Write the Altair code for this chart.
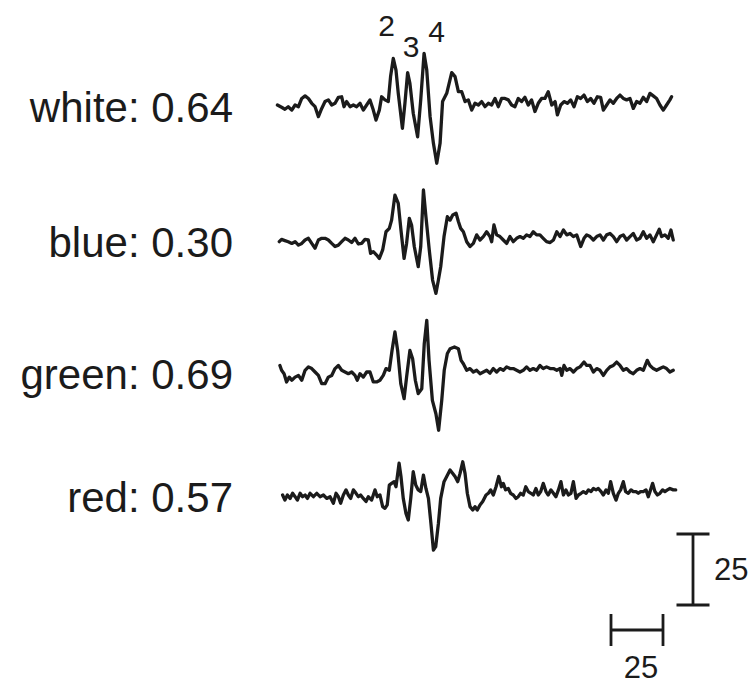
import altair as alt
import pandas as pd

# ---- recorded traces: time (ms) and amplitude (µV) ----
white_t = [0.2, 2.2, 3.8, 5.4, 7.1, 8.7, 10.3, 11.9, 13.5, 15.1, 16.7, 18.3, 19.9, 21.5, 23.1, 24.7,
           26.3, 27.9, 29.5, 31.1, 32.2, 33.5, 35.1, 36.7, 38.3, 39.9, 41.5, 43.1, 44.7, 46.3, 47.6,
           49.2, 50.3, 51.9, 53.5, 54.6, 55.9, 57.2, 58.3, 60.3, 61.5, 62.8, 63.9, 65.5, 67.6, 69.1,
           70.7, 72.0, 73.6, 75.2, 76.8, 78.4, 79.6, 81.6, 84.0, 85.6, 87.2, 88.8, 90.4, 92.0, 93.6,
           95.2, 96.8, 98.4, 100.0, 101.6, 103.2, 104.8, 106.4, 108.0, 109.6, 111.2, 112.8, 114.4,
           116.0, 117.6, 119.2, 120.8, 122.4, 124.0, 125.6, 127.2, 128.8, 130.4, 132.1, 133.7, 134.8,
           136.4, 138.0, 139.6, 141.2, 142.8, 144.4, 146.0, 147.6, 149.2, 150.8, 152.4, 154.0, 155.6,
           156.9, 158.5, 160.1, 161.7, 163.3, 164.9, 166.5, 168.1, 169.7, 171.3, 172.9, 174.5, 176.1,
           177.7, 179.3, 180.9, 182.5, 184.1, 185.7, 187.3, 188.9, 189.7]
white_v = [0, -0.8, -1.5, -0.6, -1.8, 0, -0.6, 2.3, 3.2, 2.3, 0.6, -0.6, -4.1, -1.2, 1.2, 1.8,
           0, 0.6, 2.7, 2.9, -0.6, 1.2, -0.6, 0, -0.6, 0.6, -1.8, 0, 1.8, -1.8, -5.3,
           -1.8, 2.9, 1.8, 1.2, 10.0, 16.4, 12.3, 4.1, -8.2, 0.6, 11.4, 7.6, -2.9, -11.2, 1.8,
           18.2, 12.3, -4.1, -13.5, -20.5, -13.5, 1.2, 4.1, 11.4, 10.0, 4.7, 4.7, 1.2, 1.8, -1.8,
           0.6, 0, 1.2, -0.6, 0.6, 0, 2.3, -0.6, 2.3, 2.3, 1.8, 0, -0.6,
           2.3, 1.2, 2.7, 0, 1.8, -2.3, 0.6, 2.3, 2.3, 4.7, 0, 1.2, -3.5,
           0, 1.2, 0.6, 1.8, -0.6, 2.9, 2.3, 3.5, 1.2, 2.3, 0.6, 2.9, 2.7,
           -1.8, 0, 1.8, 0.6, 2.3, 3.5, 2.3, 1.8, 2.3, -1.2, 1.2, 0.6, 2.7,
           1.2, 4.1, 3.2, 2.3, 0, -1.8, 0, 1.8, 2.9]

blue_t = [1.1, 2.2, 3.8, 5.4, 7.1, 8.7, 10.3, 11.9, 13.5, 15.1, 16.7, 18.3, 19.9, 21.5, 23.1, 24.7,
          26.3, 27.9, 29.5, 31.1, 32.7, 34.3, 35.9, 37.5, 39.1, 40.7, 42.3, 43.9, 45.0, 46.3, 47.9,
          49.2, 50.8, 52.4, 54.0, 55.1, 56.7, 58.3, 59.6, 61.1, 62.3, 63.6, 64.7, 66.0, 67.9, 69.1,
          70.4, 71.6, 73.2, 74.8, 76.4, 77.6, 78.7, 80.3, 81.9, 83.2, 84.5, 86.1, 87.2, 88.3, 89.6,
          91.2, 92.8, 94.4, 96.0, 97.6, 99.2, 100.8, 102.4, 103.2, 104.3, 105.6, 107.2, 108.8, 110.4,
          112.0, 113.6, 115.2, 116.8, 118.4, 120.0, 121.6, 123.2, 124.8, 126.4, 128.0, 129.6, 131.3,
          132.9, 134.5, 136.1, 137.7, 139.3, 140.9, 142.5, 144.1, 146.0, 147.6, 148.9, 150.5, 152.1,
          153.7, 155.3, 156.9, 158.5, 160.1, 161.7, 163.3, 164.9, 166.5, 168.1, 169.7, 171.3, 172.9,
          174.5, 176.1, 177.7, 179.3, 180.9, 182.5, 183.8, 184.9, 186.5, 188.1, 189.4, 190.5]
blue_v = [-0.6, 0.2, -0.2, -0.6, -1.2, -0.6, -1.8, -1.2, 0, 0.6, -1.2, -2.9, 0, 0.6, 0.6, 0,
          -1.2, -2.3, -1.8, -0.6, 0.6, 0, -0.9, 0.6, -1.4, -1.2, 0.2, 0, -4.7, -4.1, -5.3,
          -6.5, -3.5, 2.9, 4.1, 7.0, 15.8, 12.9, 3.5, -6.5, -1.2, 7.6, 5.3, -2.3, -9.4, -2.3,
          17.6, 8.2, -3.5, -14.1, -18.8, -14.1, -9.4, 1.2, 8.2, 7.0, 8.8, 9.4, 6.5, 4.1, 2.9,
          -0.6, -2.3, -1.2, 1.8, 0, 1.2, 2.9, 1.2, -0.6, 5.3, 1.8, 1.2, 0, -1.2,
          1.2, -0.6, 0.6, 1.2, 0.6, 1.8, 1.2, 2.9, 1.8, 1.8, 0.6, -0.6, -0.9,
          0, 2.9, 1.2, 3.5, 1.8, 2.3, 1.2, 1.8, -2.3, 0.6, 1.8, 1.2, 0,
          1.2, 1.8, 0, 1.8, 2.3, 1.2, -0.6, 1.2, 1.8, 0, 1.2, 2.3, 0,
          0.6, 2.9, 0.6, 1.8, -0.6, 1.8, 3.8, 1.2, 1.8, 0.6, 3.5, 0]

green_t = [1.4, 2.2, 3.4, 4.6, 5.9, 7.1, 8.7, 10.3, 11.9, 13.5, 15.1, 16.7, 18.3, 19.9, 21.5, 23.1,
           24.7, 26.3, 27.9, 29.5, 31.1, 32.7, 34.3, 35.9, 37.5, 38.6, 39.9, 41.5, 43.1, 44.7, 46.3,
           47.9, 49.5, 51.1, 52.4, 54.0, 55.3, 56.7, 58.0, 59.5, 61.1, 62.3, 63.9, 65.2, 66.5, 67.9,
           69.6, 70.8, 72.0, 73.1, 74.7, 76.4, 77.7, 79.2, 80.4, 81.9, 83.2, 85.3, 87.2, 88.5, 89.6,
           91.2, 92.8, 94.4, 96.0, 97.6, 99.2, 100.8, 102.4, 104.0, 105.6, 107.2, 108.8, 110.4, 112.0,
           113.6, 115.2, 116.8, 118.4, 120.0, 121.6, 123.2, 124.8, 126.4, 128.0, 129.6, 131.3, 132.9,
           134.5, 136.1, 136.9, 138.0, 139.3, 140.9, 142.5, 144.1, 145.7, 147.6, 148.9, 150.5, 152.1,
           153.7, 155.3, 156.9, 158.5, 160.1, 161.7, 163.3, 164.9, 166.5, 168.1, 169.7, 171.3, 172.9,
           174.5, 176.1, 178.0, 179.3, 180.9, 182.5, 184.1, 185.7, 187.3, 188.9, 190.5]
green_v = [2.3, 0.6, -0.6, -3.5, -1.8, -2.9, -1.8, -1.2, -2.9, 0.6, 1.8, 1.2, 0, -1.2, -4.1, -4.1,
           -1.8, -1.2, 1.2, 2.3, 0.6, 0, -0.6, 0, -1.2, -2.9, -0.6, -1.8, 0, 0, -3.5,
           -3.5, -2.9, -1.2, 1.2, 0.6, 7.6, 14.1, 7.6, -4.1, -9.4, -1.8, 7.6, 4.7, -2.9, -7.6,
           -5.9, 10.0, 18.2, 4.1, -10.0, -14.7, -20.5, -10.0, 0.6, 6.5, 8.2, 8.8, 8.2, 4.1, 2.9,
           0.6, 1.2, 0, 0.6, -0.6, 0, 0.6, -0.4, 1.2, 0, 1.2, 0.6, 1.8, 1.2,
           1.2, 0.6, 0, 0.6, 1.8, 0.6, 1.2, 0.6, 2.3, 1.2, 1.8, 1.2, 1.2,
           0.6, 1.2, -1.2, 2.3, 0.6, 1.2, 0, 1.2, 1.8, 3.5, 2.3, 2.3, 0,
           1.2, 0.6, -1.2, 0.6, 1.8, 2.3, 3.5, 2.3, 0.6, 1.2, 0, -0.6, 0.6,
           1.2, 0.6, 4.1, 2.3, 1.2, 0.6, 1.2, 1.8, 1.2, 0, 0.6]

red_t = [2.7, 3.8, 5.0, 6.3, 7.5, 8.7, 9.8, 11.1, 12.3, 13.5, 14.6, 15.9, 17.5, 19.1, 20.7, 22.3,
         23.9, 25.5, 27.1, 28.4, 29.5, 30.6, 31.9, 33.2, 34.3, 35.4, 36.7, 38.0, 39.1, 40.2, 41.5,
         42.8, 43.9, 45.5, 47.1, 48.2, 49.5, 50.8, 51.9, 53.0, 54.0, 55.1, 56.3, 57.2, 58.7, 59.6,
         60.7, 62.0, 63.1, 64.3, 65.5, 66.7, 67.9, 69.1, 70.4, 71.6, 72.8, 74.0, 75.2, 76.3, 77.6,
         78.7, 80.3, 81.6, 83.2, 84.5, 85.6, 86.9, 88.0, 89.3, 90.4, 91.5, 92.8, 94.1, 95.2, 96.3,
         97.6, 98.9, 100.5, 101.6, 102.7, 104.0, 105.3, 106.6, 107.9, 108.8, 109.9, 111.2, 112.3,
         113.6, 114.9, 116.0, 117.1, 118.4, 119.6, 120.8, 122.1, 123.2, 124.5, 125.6, 126.8, 128.0,
         129.3, 130.4, 131.7, 132.9, 134.1, 135.3, 136.5, 137.7, 138.9, 140.1, 141.3, 142.5, 143.8,
         144.9, 146.2, 147.3, 148.6, 149.7, 151.0, 152.1, 153.4, 154.5, 155.8, 156.9, 158.2, 159.3,
         160.4, 161.7, 163.0, 164.1, 165.2, 166.5, 167.6, 168.9, 170.2, 171.3, 172.6, 173.7, 174.8,
         176.1, 177.4, 178.5, 179.6, 180.6, 181.7, 182.9, 184.1, 185.4, 186.5, 187.7, 188.9, 190.5,
         191.7]
red_v = [0, -1.8, 0, -1.2, 0.6, -0.6, -1.8, 0.6, -0.6, 0, -1.2, 0.6, -0.6, 0.6, -0.6, 0,
         -1.2, -0.6, -2.9, 0.6, -0.6, -2.9, 0, 1.8, 0, -1.2, 1.8, 0.6, -0.6, 0, -1.2,
         -2.3, -0.6, -1.8, 1.8, -0.6, 0, -4.1, -4.7, -3.5, 3.5, 4.1, 4.7, 2.9, 11.2, 6.5,
         -1.2, -6.5, -8.8, -1.2, 8.2, 3.5, 1.8, 1.2, 7.0, 2.3, -1.2, -10.0, -19.4, -18.2, -10.0,
         -1.2, 4.7, 6.5, 8.8, 7.6, 6.5, 4.7, 7.6, 11.7, 7.6, 0.6, -4.1, -5.3, -4.1, -5.3,
         -3.5, -2.3, 0, 0.6, 1.8, 0, 2.9, 6.5, 2.9, 4.1, 1.8, 2.3, 0.6,
         0, -1.2, -0.6, 0.6, 0, 2.9, 1.2, 0.6, 0, 2.3, 0, 1.2, 4.1,
         1.2, 0, 1.8, 0.6, -0.6, 1.8, 4.7, 0, 1.8, 0, 0.6, 4.7, -1.2,
         0, 0.6, 1.2, 0.6, 1.8, 1.2, 2.3, 1.8, 2.3, 1.2, 0, 1.8, 0.6,
         4.7, 0.6, -1.8, 0.6, 1.8, 4.7, 1.2, 0.6, 1.8, 1.2, 1.2, 0.6, 1.2,
         1.2, 1.8, -0.6, 1.8, 4.1, 1.2, 0, 0.6, 1.8, 1.2, 1.8, 2.3, 1.8,
         1.8]

trace_names = ["white", "blue", "green", "red"]
trace_scores = ["0.64", "0.30", "0.69", "0.57"]
peak_labels = ["2", "3", "4"]
scale_ms = 25
scale_uv = 25

# ---- layout (pixels converted to data units) ----
W, H = 754, 688
PX_PER_MS = 2.08
PX_PER_UV = 2.84
X0 = 277                                   # left edge of the traces, px
row_px = [105, 240, 372, 495]              # baseline of each trace, px
row_depth = [p / PX_PER_UV for p in row_px]

x_scale = alt.Scale(domain=[-X0 / PX_PER_MS, (W - X0) / PX_PER_MS], nice=False, zero=False)
y_scale = alt.Scale(domain=[-H / PX_PER_UV, 0], nice=False, zero=False)


def px_to_t(px):
    return (px - X0) / PX_PER_MS


def px_to_y(px):
    return -px / PX_PER_UV


series = [(white_t, white_v), (blue_t, blue_v), (green_t, green_v), (red_t, red_v)]
rows = []
for name, depth, (ts, vs) in zip(trace_names, row_depth, series):
    for i, (t, v) in enumerate(zip(ts, vs)):
        rows.append({"trace": name, "i": i, "t": t, "y": v - depth})
traces_df = pd.DataFrame(rows)

INK = "#1b1b1b"
FONT = "Liberation Sans"

traces = alt.Chart(traces_df).mark_line(
    color=INK, strokeWidth=3.3, strokeJoin="round", strokeCap="round"
).encode(
    x=alt.X("t:Q", scale=x_scale, axis=None),
    y=alt.Y("y:Q", scale=y_scale, axis=None),
    detail="trace:N",
    order="i:Q",
)

label_df = pd.DataFrame({
    "text": [f"{n}: {s}" for n, s in zip(trace_names, trace_scores)],
    "t": [px_to_t(233)] * 4,
    "y": [-d for d in row_depth],
})
labels = alt.Chart(label_df).mark_text(
    align="right", baseline="alphabetic", dy=16.5, fontSize=42, font=FONT, color=INK
).encode(
    x=alt.X("t:Q", scale=x_scale, axis=None),
    y=alt.Y("y:Q", scale=y_scale, axis=None),
    text="text:N",
)

# component numbers above the first trace's wave
peak_df = pd.DataFrame({
    "text": peak_labels,
    "t": [px_to_t(386.5), px_to_t(411), px_to_t(436.5)],
    "y": [px_to_y(36), px_to_y(57), px_to_y(41.5)],
})
peaks = alt.Chart(peak_df).mark_text(
    align="center", baseline="alphabetic", fontSize=30, font=FONT, color=INK
).encode(
    x=alt.X("t:Q", scale=x_scale, axis=None),
    y=alt.Y("y:Q", scale=y_scale, axis=None),
    text="text:N",
)

# scale bars
vbar_t = px_to_t(693)
vbar_top = px_to_y(534)
cap_half = 16.5 / PX_PER_MS
hbar_t0 = px_to_t(611)
hbar_y = px_to_y(630)
tick_half = 16 / PX_PER_UV

bars_df = pd.DataFrame([
    {"t": vbar_t, "t2": vbar_t, "y": vbar_top, "y2": vbar_top - scale_uv},
    {"t": vbar_t - cap_half, "t2": vbar_t + cap_half, "y": vbar_top, "y2": vbar_top},
    {"t": vbar_t - cap_half, "t2": vbar_t + cap_half, "y": vbar_top - scale_uv, "y2": vbar_top - scale_uv},
    {"t": hbar_t0, "t2": hbar_t0 + scale_ms, "y": hbar_y, "y2": hbar_y},
    {"t": hbar_t0, "t2": hbar_t0, "y": hbar_y + tick_half, "y2": hbar_y - tick_half},
    {"t": hbar_t0 + scale_ms, "t2": hbar_t0 + scale_ms, "y": hbar_y + tick_half, "y2": hbar_y - tick_half},
])
bars = alt.Chart(bars_df).mark_rule(color=INK, strokeWidth=2.8).encode(
    x=alt.X("t:Q", scale=x_scale, axis=None),
    x2="t2:Q",
    y=alt.Y("y:Q", scale=y_scale, axis=None),
    y2="y2:Q",
)

vbar_text_df = pd.DataFrame([
    {"text": str(scale_uv), "t": vbar_t + 21 / PX_PER_MS, "y": vbar_top - scale_uv / 2},
])
vbar_text = alt.Chart(vbar_text_df).mark_text(
    align="left", baseline="middle", fontSize=31, font=FONT, color=INK, dy=1
).encode(
    x=alt.X("t:Q", scale=x_scale, axis=None),
    y=alt.Y("y:Q", scale=y_scale, axis=None),
    text="text:N",
)
hbar_text_df = pd.DataFrame([
    {"text": str(scale_ms), "t": hbar_t0 + scale_ms / 2 + 4 / PX_PER_MS, "y": hbar_y},
])
hbar_text = alt.Chart(hbar_text_df).mark_text(
    align="center", baseline="alphabetic", fontSize=31, font=FONT, color=INK, dy=48
).encode(
    x=alt.X("t:Q", scale=x_scale, axis=None),
    y=alt.Y("y:Q", scale=y_scale, axis=None),
    text="text:N",
)

chart = alt.layer(traces, labels, peaks, bars, vbar_text, hbar_text).properties(
    width=W, height=H,
    autosize=alt.AutoSizeParams(type="none"),
    padding=0,
    background="white",
).configure_view(stroke=None)

chart.save("out.html", embed_options={"renderer": "svg", "actions": False})
